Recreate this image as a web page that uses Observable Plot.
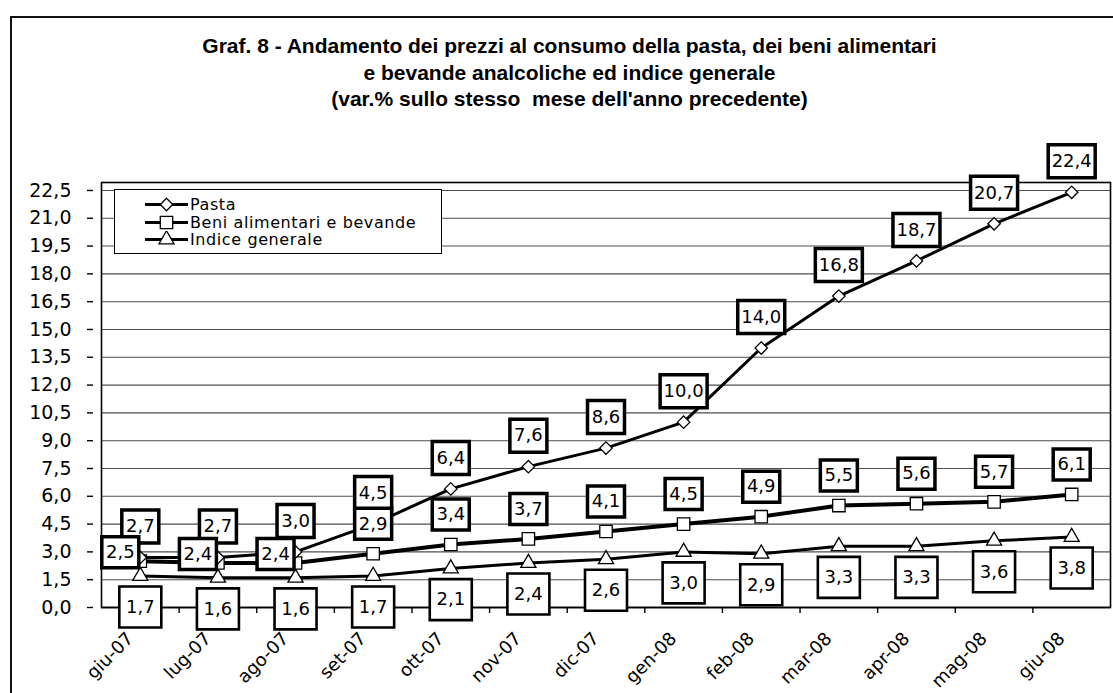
<!DOCTYPE html>
<html><head><meta charset="utf-8">
<script src="https://cdn.jsdelivr.net/npm/d3@7"></script>
<script src="https://cdn.jsdelivr.net/npm/@observablehq/plot@0.6"></script>
<style>
body{margin:0;background:#fff;overflow:hidden;width:1113px;height:693px;position:relative;font-family:"DejaVu Sans",sans-serif;color:#000}
#frame{position:absolute;left:10px;top:16px;width:1200px;height:800px;border-left:2px solid #111;border-top:2px solid #111;pointer-events:none}
#title{position:relative;height:130px;box-sizing:border-box;padding-top:33px;padding-left:26px;text-align:center;font-family:"Liberation Sans",Arial,sans-serif;font-weight:bold;font-size:21px;line-height:26.5px}
#chart{position:relative;height:563px}
#legend{position:absolute;left:114px;top:189px;width:328px;height:65px;border:1.5px solid #000;background:#fff;box-sizing:border-box}
.row{position:absolute;left:30px;height:17px;display:flex;align-items:center;font-size:16px;line-height:17px;letter-spacing:0.6px}
.row svg{margin-right:2px}
</style></head>
<body>
<div id="frame"></div>
<div id="title">Graf. 8 - Andamento dei prezzi al consumo della pasta, dei beni alimentari<br>e bevande analcoliche ed indice generale<br>(var.% sullo stesso&nbsp; mese dell'anno precedente)</div>
<div id="chart"></div>
<div id="legend"></div>
<script>
const months = ["giu-07","lug-07","ago-07","set-07","ott-07","nov-07","dic-07","gen-08","feb-08","mar-08","apr-08","mag-08","giu-08"];
const pasta  = [2.7, 2.7, 3.0, 4.5, 6.4, 7.6, 8.6, 10.0, 14.0, 16.8, 18.7, 20.7, 22.4];
const beni   = [2.5, 2.4, 2.4, 2.9, 3.4, 3.7, 4.1, 4.5, 4.9, 5.5, 5.6, 5.7, 6.1];
const indice = [1.7, 1.6, 1.6, 1.7, 2.1, 2.4, 2.6, 3.0, 2.9, 3.3, 3.3, 3.6, 3.8];
const yTicks = [0, 1.5, 3, 4.5, 6, 7.5, 9, 10.5, 12, 13.5, 15, 16.5, 18, 19.5, 21, 22.5];
const seriesNames = ["Pasta", "Beni alimentari e bevande", "Indice generale"];

const fmt = v => v.toFixed(1).replace(".", ",");
const rows = months.map((m, i) => ({i, m, pasta: pasta[i], beni: beni[i], indice: indice[i]}));
const boxSym = (w, h) => ({draw(ctx) { ctx.rect(-w / 2, -h / 2, w, h); }});
const FONT = "DejaVu Sans";

const first3 = rows.slice(0, 3), rest = rows.slice(3);
const pastaShort = rows.filter(d => fmt(d.pasta).length <= 3);
const pastaLong = rows.filter(d => fmt(d.pasta).length > 3);

const chart = Plot.plot({
  width: 1113, height: 563,
  marginTop: 52, marginBottom: 86, marginLeft: 101, marginRight: 3,
  style: {fontFamily: FONT, background: "transparent", overflow: "visible"},
  x: {type: "linear", domain: [-0.5, 12.5]},
  y: {domain: [0, 22.93]},
  marks: [
    Plot.gridY(yTicks, {stroke: "#222", strokeOpacity: 0.8, strokeWidth: 1.1}),
    Plot.frame({stroke: "#000", strokeWidth: 1.6}),
    Plot.ruleY([0], {stroke: "#000", strokeWidth: 1.6}),
    Plot.axisY(yTicks, {tickFormat: fmt, tickSize: 6, tickPadding: 16, fontSize: 19, dx: -8, stroke: "#000", strokeWidth: 1.4, label: null}),
    Plot.axisX(rows.slice(1).map(d => d.i - 0.5), {tickSize: 6, tickFormat: () => "", stroke: "#000", strokeWidth: 1.4, label: null}),
    Plot.axisX(rows.map(d => d.i), {tickFormat: i => months[i], tickRotate: -45, tickSize: 0, tickPadding: 28, fontSize: 18, dx: -10, label: null}),
    Plot.line(rows, {x: "i", y: "indice", stroke: "#000", strokeWidth: 3}),
    Plot.line(rows, {x: "i", y: "beni", stroke: "#000", strokeWidth: 4}),
    Plot.line(rows, {x: "i", y: "pasta", stroke: "#000", strokeWidth: 3}),
    Plot.dot(rows, {x: "i", y: "indice", symbol: "triangle", r: 5.6, fill: "#fff", stroke: "#000", strokeWidth: 1.3}),
    Plot.dot(rows, {x: "i", y: "beni", symbol: "square", r: 7, fill: "#fff", stroke: "#000", strokeWidth: 1.3}),
    Plot.dot(rows, {x: "i", y: "pasta", symbol: "diamond2", r: 5.6, fill: "#fff", stroke: "#000", strokeWidth: 1.3}),
    // Pasta labels (above)
    Plot.dot(pastaShort, {x: "i", y: "pasta", dy: -31, symbol: boxSym(37, 33), fill: "#fff", stroke: "#000", strokeWidth: 3.5}),
    Plot.dot(pastaLong, {x: "i", y: "pasta", dy: -31, symbol: boxSym(47, 33), fill: "#fff", stroke: "#000", strokeWidth: 3.5}),
    Plot.text(rows, {x: "i", y: "pasta", dy: -31, text: d => fmt(d.pasta), fontSize: 18, fill: "#000"}),
    // Beni labels: first three shifted left, others above
    Plot.dot(first3, {x: "i", y: "beni", dx: -20, dy: -9, symbol: boxSym(37, 31), fill: "#fff", stroke: "#000", strokeWidth: 3.5}),
    Plot.text(first3, {x: "i", y: "beni", dx: -20, dy: -9, text: d => fmt(d.beni), fontSize: 18, fill: "#000"}),
    Plot.dot(rest, {x: "i", y: "beni", dy: -30, symbol: boxSym(37, 31), fill: "#fff", stroke: "#000", strokeWidth: 3.5}),
    Plot.text(rest, {x: "i", y: "beni", dy: -30, text: d => fmt(d.beni), fontSize: 18, fill: "#000"}),
    // Indice labels (below)
    Plot.dot(rows, {x: "i", y: "indice", dy: 31, symbol: boxSym(42, 41), fill: "#fff", stroke: "#000", strokeWidth: 2.6}),
    Plot.text(rows, {x: "i", y: "indice", dy: 31, text: d => fmt(d.indice), fontSize: 18, fill: "#000"})
  ]
});
document.getElementById("chart").appendChild(chart);

// Legend
const legend = document.getElementById("legend");
const syms = [[d3.symbolDiamond2, 5.6], [d3.symbolSquare, 7], [d3.symbolTriangle, 5.6]];
seriesNames.forEach((name, k) => {
  const row = document.createElement("div");
  row.className = "row";
  row.style.top = (6 + 17.5 * k) + "px";
  const [sym, r] = syms[k];
  const p = d3.symbol(sym, Math.PI * r * r)();
  row.innerHTML = `<svg width="43" height="17"><line x1="0" x2="43" y1="8.5" y2="8.5" stroke="#000" stroke-width="3"/><path d="${p}" transform="translate(21.5,8.5)" fill="#fff" stroke="#000" stroke-width="1.3"/></svg><span>${name}</span>`;
  legend.appendChild(row);
});
</script>
</body></html>
